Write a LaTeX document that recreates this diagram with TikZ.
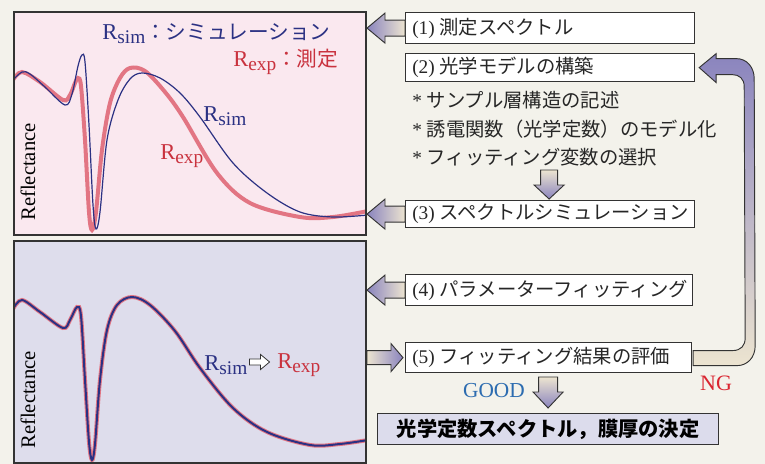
\documentclass[tikz,border=0pt]{standalone}
\usepackage{fontspec}
\setmainfont{Liberation Serif}
\newfontfamily\jp{Noto Sans CJK JP}
\usetikzlibrary{calc}
\definecolor{bg}{HTML}{F3F2EB}
\definecolor{pinkbg}{HTML}{FAE8EF}
\definecolor{lavbg}{HTML}{DEDDEC}
\definecolor{finbg}{HTML}{DCDCEC}
\definecolor{navy}{HTML}{2B3183}
\definecolor{redtxt}{HTML}{C9323E}
\definecolor{redcurve}{HTML}{E27583}
\definecolor{apurple}{HTML}{8A84BE}
\definecolor{abeige}{HTML}{ECE4D0}
\definecolor{goodblue}{HTML}{2C6CB0}
\definecolor{ngred}{HTML}{DA2530}
\definecolor{boxline}{HTML}{333333}
\newcommand\Rs[1]{{\fontsize{17}{18}\selectfont R}\raisebox{-0.45ex}{\fontsize{14.5}{15}\selectfont #1}}
\newcommand\LArr[4]{% #1 tail point, #2 length, #3 head length, #4 shaft half
  \path[barrow, left color=apurple, right color=abeige] (#1) -- ++(0,#4) -- ++({-(#2-#3)},0) -- ++(0,{15-#4}) -- ++(-#3,-15) -- ++(#3,-15) -- ++(0,{15-#4}) -- ++({#2-#3},0) -- cycle;}
\newcommand\RArr[4]{% #1 tip point
  \path[barrow, left color=abeige, right color=apurple] (#1) -- ++(-#3,-14) -- ++(0,{14-#4}) -- ++({-(#2-#3)},0) -- ++(0,{2*#4}) -- ++({#2-#3},0) -- ++(0,{14-#4}) -- cycle;}
\newcommand\DArr[4]{% #1 tip point
  \path[barrow, top color=abeige, bottom color=apurple] (#1) -- ++(-15,-#3) -- ++({15-#4},0) -- ++(0,{-(#2-#3)}) -- ++({2*#4},0) -- ++(0,{#2-#3}) -- ++({15-#4},0) -- cycle;}
\tikzset{
  panel/.style={draw=boxline, line width=1.1pt},
  stepbox/.style={draw=boxline, line width=0.9pt, fill=white, anchor=north west, inner sep=0pt},
  boxtext/.style={anchor=west, inner sep=0pt, text=black!85, font=\fontsize{14.5}{17}\selectfont},
  barrow/.style={draw=boxline, line width=0.7pt, line join=miter},
  simcurve/.style={navy, line width=0.9pt, smooth, tension=0.55},
  expcurve/.style={redcurve, line width=3pt, smooth, tension=0.55},
  lbl/.style={inner sep=0pt, font=\fontsize{15.5}{17}\selectfont},
}
\begin{document}
\begin{tikzpicture}[x=0.75pt,y=-0.75pt]
\path[use as bounding box, fill=bg] (0,0) rectangle (765,464);

% top panel
\coordinate (p1nw) at (14,12);
\coordinate (p1se) at (366,235);
\fill[pinkbg] (p1nw) rectangle (p1se);
\begin{scope}
\clip (p1nw) rectangle (p1se);
\draw[expcurve] plot coordinates {(13,80) (22,72) (40,82) (63,100) (70,95) (75,83) (78,78) (81,86) (85,140) (89,212) (92,230) (96,212) (102,150) (110,103) (120,78) (130,68) (145,71) (165,92) (183,117) (217,173) (250,203) (300,217) (333,217) (368,211)};
\draw[simcurve] plot coordinates {(13,80) (22,72) (30,74) (45,87) (65,105) (72,94) (78,66) (82,55) (85,62) (89,125) (93,205) (96,229) (100,212) (107,140) (118,100) (130,79) (142,73) (160,78) (180,93) (200,117) (233,163) (267,193) (300,212) (333,217) (368,215)};
\end{scope}
\draw[panel] (p1nw) rectangle (p1se);

% bottom panel
\coordinate (p2nw) at (14,241);
\coordinate (p2se) at (366,463);
\fill[lavbg] (p2nw) rectangle (p2se);
\begin{scope}
\clip (p2nw) rectangle (p2se);
\def\bcurve{(13,309) (22,300) (40,312) (63,328) (70,320) (77,307) (81,316) (85,380) (89,442) (92,460) (95,444) (100,380) (107,330) (117,305) (132,297) (150,305) (175,331) (200,368) (233,408) (267,432) (310,445) (340,444) (368,440)}
\draw[redcurve, line width=3pt, smooth, tension=0.55] plot coordinates {\bcurve};
\draw[navy, line width=1.5pt, smooth, tension=0.55] plot coordinates {\bcurve};
\end{scope}
\draw[panel] (p2nw) rectangle (p2se);

% panel labels
\node[lbl, anchor=west, text=navy] (lsim) at (102,34) {\Rs{sim}{\jp ：シミュレーション}};
\node[lbl, anchor=west, text=redtxt] (lexp) at (233,62) {\Rs{exp}{\jp ：測定}};
\node[lbl, anchor=west, text=navy] (csim) at (203,116) {\Rs{sim}};
\node[lbl, anchor=west, text=redtxt] (cexp) at (160,156) {\Rs{exp}};
\node[lbl, rotate=90, font=\fontsize{15.5}{17}\selectfont] (refl1) at (28,172) {Reflectance};
\node[lbl, rotate=90, font=\fontsize{15.5}{17}\selectfont] (refl2) at (28,400) {Reflectance};
\node[lbl, anchor=west, text=navy] (bsim) at (204,365) {\Rs{sim}};
\node[lbl, anchor=west, text=redtxt] (bexp) at (277,365) {\Rs{exp}};
\path[draw=boxline, line width=0.6pt, fill=white] (bsim.east) ++(2,-6) -- ++(11,0) -- ++(0,-4.5) -- ++(9,7.5) -- ++(-9,7.5) -- ++(0,-4.5) -- ++(-11,0) -- cycle;

% boxes
\node[stepbox, minimum width=289*0.75pt, minimum height=31*0.75pt] (b1) at (405,12) {};
\node[stepbox, minimum width=289*0.75pt, minimum height=28*0.75pt] (b2) at (405,53) {};
\node[stepbox, minimum width=289*0.75pt, minimum height=27*0.75pt] (b3) at (405,200) {};
\node[stepbox, minimum width=287*0.75pt, minimum height=31*0.75pt] (b4) at (405,274) {};
\node[stepbox, minimum width=286*0.75pt, minimum height=30*0.75pt] (b5) at (405,342) {};
\node[stepbox, fill=finbg, minimum width=341*0.75pt, minimum height=31*0.75pt, font=\fontsize{15.2}{18}\selectfont] (fin) at (377,413) {\jp\bfseries 光学定数スペクトル，膜厚の決定};

\node[boxtext] (t1) at ($(b1.west)+(7,0)$) {(1) {\jp 測定スペクトル}};
\node[boxtext] (t2) at ($(b2.west)+(7,0)$) {(2) {\jp 光学モデルの構築}};
\node[boxtext] (t3) at ($(b3.west)+(7,0)$) {(3) {\jp スペクトルシミュレーション}};
\node[boxtext] (t4) at ($(b4.west)+(7,0)$) {(4) {\jp パラメーターフィッティング}};
\node[boxtext] (t5) at ($(b5.west)+(7,0)$) {(5) {\jp フィッティング結果の評価}};

\node[boxtext] (s1) at (412,100) {* {\jp サンプル層構造の記述}};
\node[boxtext] (s2) at (412,129) {* {\jp 誘電関数（光学定数）のモデル化}};
\node[boxtext] (s3) at (412,157) {* {\jp フィッティング変数の選択}};

% block arrows
\LArr{b1.west}{38}{18}{8}
\LArr{b3.west}{38}{18}{8}
\LArr{b4.west}{38}{18}{8}
\RArr{$(b5.west)+(-2,0)$}{36}{12}{7}
\DArr{$(b3.north)+(-1,-1)$}{29}{14}{8.5}
\DArr{$(fin.north)+(0,-5)$}{31}{16}{9.5}

\node[lbl, text=goodblue, font=\fontsize{16}{18}\selectfont] (good) at (494,391) {GOOD};
\node[lbl, text=ngred, font=\fontsize{16.5}{18}\selectfont] (ng) at (716,383) {NG};

% NG loop arrow
\path[barrow, top color=apurple, bottom color=abeige]
  ($(b5.east)+(1,8)$) -- ($(b5.east)+(1,-7)$) -- ($(b5.east)+(40,-7)$)
  .. controls ($(b5.east)+(49,-7)$) and ($(b5.east)+(53,-12)$) .. ($(b5.east)+(53,-20)$)
  -- ($(b2.east)+(49,19)$)
  .. controls ($(b2.east)+(49,11)$) and ($(b2.east)+(44,7)$) .. ($(b2.east)+(37,7)$)
  -- ($(b2.east)+(21,7)$) -- ($(b2.east)+(21,15)$) -- ($(b2.east)+(4,0)$)
  -- ($(b2.east)+(21,-14)$) -- ($(b2.east)+(21,-9)$) -- ($(b2.east)+(41,-9)$)
  .. controls ($(b2.east)+(52,-9)$) and ($(b2.east)+(59,0)$) .. ($(b2.east)+(59,11)$)
  -- ($(b5.east)+(63,-12)$)
  .. controls ($(b5.east)+(63,0)$) and ($(b5.east)+(55,8)$) .. ($(b5.east)+(45,8)$)
  -- cycle;
\end{tikzpicture}
\end{document}
